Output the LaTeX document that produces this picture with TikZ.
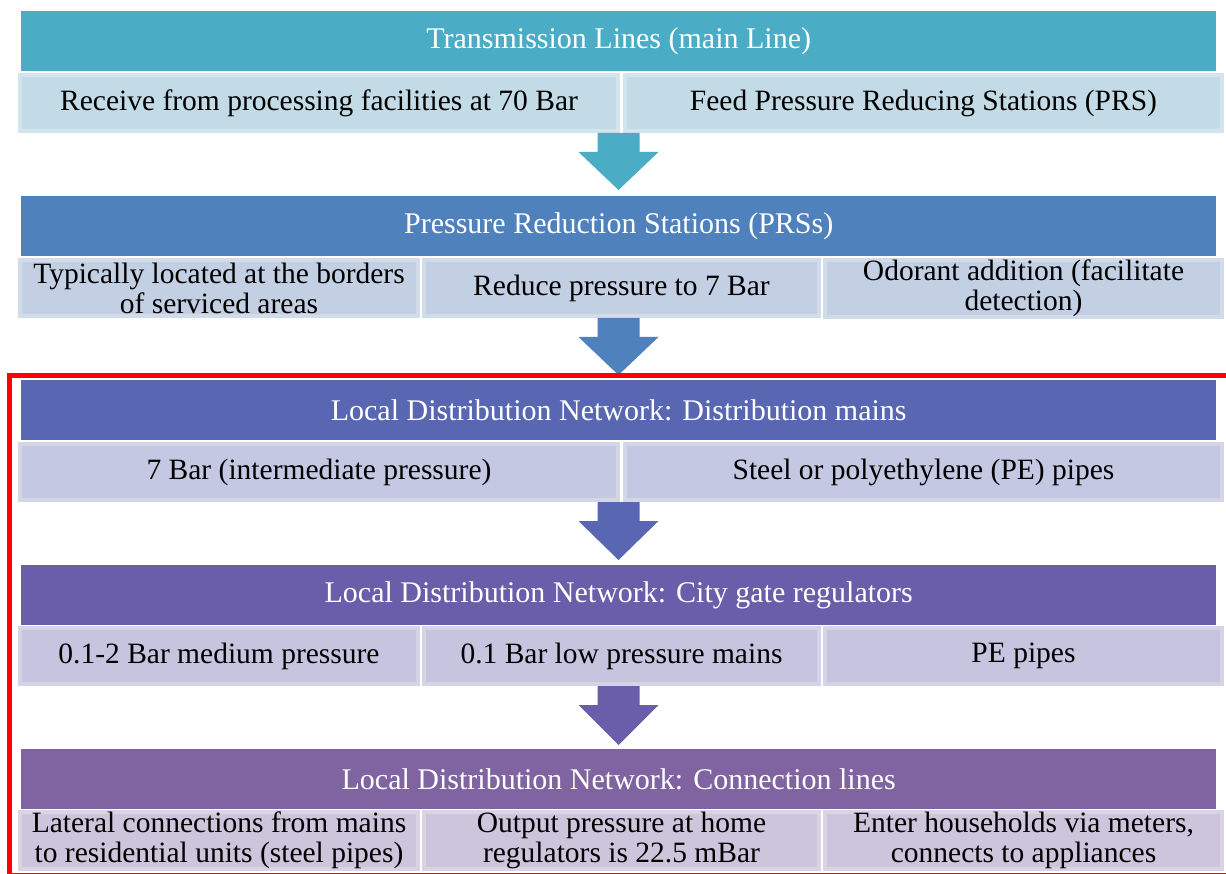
\documentclass[tikz,border=0pt]{standalone}
\usepackage{fontspec}
\setmainfont{Liberation Serif}
\usetikzlibrary{calc}
\definecolor{hA}{HTML}{4BACC6}
\definecolor{hB}{HTML}{4F81BD}
\definecolor{hC}{HTML}{5966B2}
\definecolor{hD}{HTML}{6A5DA9}
\definecolor{hE}{HTML}{8064A2}
\definecolor{sA}{HTML}{C3DBE6}
\definecolor{sB}{HTML}{C3CFE3}
\definecolor{sC}{HTML}{C4C8E2}
\definecolor{sD}{HTML}{C7C4E0}
\definecolor{sE}{HTML}{CDC5DC}
\tikzset{
  hdr/.style={fill=#1, text=white, minimum width=1195pt, minimum height=60pt, inner sep=0pt, anchor=north west, font=\fontsize{30}{30}\selectfont},
  subbox/.style={fill=#1, draw=#1!75!white, line width=4pt, minimum height=56pt, inner sep=0pt, anchor=north west, align=center, font=\fontsize{29.5}{30}\selectfont},
  redframe/.style={draw=red, line width=5pt},
}
\newcommand{\blockarr}[3]{%
  \fill[#1] ($(#2)+(-21,0)$) -- ($(#2)+(21,0)$) -- ($(#2)+(21,19)$) -- ($(#2)+(40,19)$) -- (#3) -- ($(#2)+(-40,19)$) -- ($(#2)+(-21,19)$) -- cycle;}
\begin{document}
\begin{tikzpicture}[x=1pt,y=-1pt]
\useasboundingbox[fill=white] (0,0) rectangle (1226,874);
% row 1
\node[hdr=hA] (h1) at (21,11) {Transmission Lines (main Line)};
\node[subbox=sA, minimum width=598pt] (s11) at (18,73) {Receive from processing facilities at 70 Bar};
\node[subbox=sA, minimum width=597pt] (s12) at (623,73) {Feed Pressure Reducing Stations (PRS)};
\coordinate (a1t) at (618.5,133);
\coordinate (a1b) at (618.5,190);
\blockarr{hA}{a1t}{a1b}
% row 2
\node[hdr=hB] (h2) at (21,196) {Pressure Reduction Stations (PRSs)};
\node[subbox=sB, minimum width=398pt] (s21) at (18,258) {Typically located at the borders\\of serviced areas};
\node[subbox=sB, minimum width=395pt] (s22) at (422,258) {Reduce pressure to 7 Bar};
\node[subbox=sB, minimum width=397pt] (s23) at (823,258) {Odorant addition (facilitate\\detection)};
\coordinate (a2t) at (618.5,318);
\coordinate (a2b) at (618.5,375);
\blockarr{hB}{a2t}{a2b}
% row 3
\node[hdr=hC] (h3) at (21,380) {Local Distribution Network: Distribution mains};
\node[subbox=sC, minimum width=598pt] (s31) at (18,442) {7 Bar (intermediate pressure)};
\node[subbox=sC, minimum width=597pt] (s32) at (623,442) {Steel or polyethylene (PE) pipes};
\coordinate (a3t) at (618.5,502);
\coordinate (a3b) at (618.5,560);
\blockarr{hC}{a3t}{a3b}
% row 4
\node[hdr=hD] (h4) at (21,565) {Local Distribution Network: City gate regulators};
\node[subbox=sD, minimum width=398pt] (s41) at (18,626) {0.1-2 Bar medium pressure};
\node[subbox=sD, minimum width=395pt] (s42) at (422,626) {0.1 Bar low pressure mains};
\node[subbox=sD, minimum width=397pt] (s43) at (823,626) {PE pipes};
\coordinate (a4t) at (618.5,686);
\coordinate (a4b) at (618.5,745);
\blockarr{hD}{a4t}{a4b}
% row 5
\node[hdr=hE] (h5) at (21,749) {Local Distribution Network: Connection lines};
\node[subbox=sE, minimum width=398pt] (s51) at (18,810) {Lateral connections from mains\\to residential units (steel pipes)};
\node[subbox=sE, minimum width=395pt] (s52) at (422,810) {Output pressure at home\\regulators is 22.5 mBar};
\node[subbox=sE, minimum width=397pt] (s53) at (823,810) {Enter households via meters,\\connects to appliances};
% red frame
\draw[redframe] (9.5,376) rectangle (1240,875.5);
\end{tikzpicture}
\end{document}
